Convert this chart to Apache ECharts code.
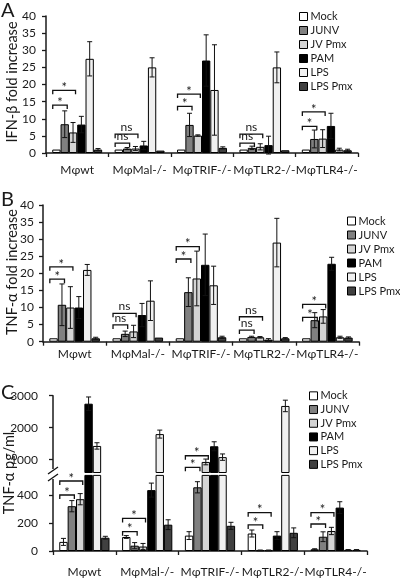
<!DOCTYPE html>
<html><head><meta charset="utf-8">
<script src="https://cdn.jsdelivr.net/npm/echarts@6/dist/echarts.min.js"></script>
<style>html,body{margin:0;padding:0;background:#fff}#c{width:400px;height:578px}</style>
</head><body><div id="c"></div>
<script>
// ---------- DATA ----------
const categories = ['Mφwt', 'MφMal-/-', 'MφTRIF-/-', 'MφTLR2-/-', 'MφTLR4-/-'];
const treatments = ['Mock', 'JUNV', 'JV Pmx', 'PAM', 'LPS', 'LPS Pmx'];
const treatmentColors = ['#ffffff', '#808080', '#d4d4d4', '#000000', '#f0f0f0', '#404040'];

// rows = treatments, columns = categories
const ifnMean = [
  [1, 1, 1, 1, 1],
  [8.4, 1.3, 8.2, 1.5, 4.1],
  [6.0, 1.3, 5.1, 1.8, 4.2],
  [8.3, 2.2, 27, 2.3, 7.9],
  [27.5, 25, 18.4, 25, 1],
  [1, 0.7, 1.5, 0.8, 0.8]
];
const ifnErr = [
  [0, 0, 0, 0, 0],
  [3.9, 0.3, 3.4, 0.5, 2.6],
  [2.9, 0.6, 0.2, 0.9, 2.6],
  [2.4, 1.2, 7.5, 2.6, 3.7],
  [5, 2.8, 13.2, 4.5, 0.4],
  [0.3, 0, 0.3, 0, 0.3]
];
const ifnBrackets = [[0,1,14,'*'],[0,2,18.3,'*'],[1,1,2.9,'ns'],[1,2,5.5,'ns'],[2,1,13.6,'*'],[2,2,17.2,'*'],[3,1,2.9,'ns'],[3,2,5.5,'ns'],[4,1,7.8,'*'],[4,2,12,'*']];

const tnfMean = [
  [1, 1, 1, 1, 1],
  [10.8, 2.3, 14.5, 1.4, 6.3],
  [10, 3, 18.5, 1.3, 7.4],
  [10, 7.8, 22.5, 0.6, 22.8],
  [21, 12, 16.5, 29, 1.3],
  [1, 1.2, 1.3, 1, 1.2]
];
const tnfErr = [
  [0, 0, 0, 0, 0],
  [6.1, 0.8, 4.2, 0.2, 2.2],
  [6.1, 1.8, 8, 0.2, 2],
  [3.2, 3.4, 9, 0.3, 1.9],
  [1.6, 5.8, 5.6, 7.1, 0.3],
  [0.3, 0, 0.3, 0.2, 0.2]
];
const tnfBrackets = [[0,1,18.3,'*'],[0,2,21.9,'*'],[1,1,4.9,'ns'],[1,2,8.3,'ns'],[2,1,24.2,'*'],[2,2,27.8,'*'],[3,1,3.4,'ns'],[3,2,7.3,'ns'],[4,1,7.1,'*'],[4,2,10.9,'*']];

const pgMean = [
  [65, 100, 110, 125, 12],
  [320, 38, 455, 5, 102],
  [370, 32, 930, 5, 143],
  [2750, 435, 1420, 110, 310],
  [1430, 1800, 1080, 2680, 8],
  [95, 188, 180, 130, 8]
];
const pgErr = [
  [25, 10, 28, 25, 4],
  [40, 22, 40, 2, 35],
  [40, 22, 90, 2, 26],
  [210, 50, 140, 28, 42],
  [100, 125, 100, 180, 2],
  [10, 35, 25, 35, 2]
];
const pgBrackets = [[0,1,400,'*'],[0,2,500,'*'],[1,1,138,'*'],[1,2,233,'*'],[2,1,763,'*'],[2,2,1124,'*'],[3,1,186,'*'],[3,2,274,'*'],[4,1,193,'*'],[4,2,274,'*']];

const foldTicks = [0, 5, 10, 15, 20, 25, 30, 35, 40];
const pgUpperTicks = [1000, 2000, 3000];
const pgLowerTicks = [0, 200, 400];
const pgUpperRange = [600, 3000];
const pgLowerRange = [0, 540];

// ---------- STYLE / LAYOUT ----------
const FONT = 'Lato';
const TXT = '#1a1a1a';
const AX = '#1a1a1a';

function errRender(params, api) {
  const cat = api.value(0), s = api.value(1), v = api.value(2), e = api.value(3);
  const band = api.size([1, 0])[0];
  const bw = band * 0.8 / 6;
  const cx = api.coord([cat, v])[0] + (s - 2.5) * bw;
  const top = api.coord([cat, v + e])[1];
  const bot = api.coord([cat, v - e])[1];
  const cap = bw * 0.3;
  const st = { stroke: '#111', lineWidth: 1 };
  return { type: 'group', children: [
    { type: 'line', shape: { x1: cx, y1: top, x2: cx, y2: bot }, style: st },
    { type: 'line', shape: { x1: cx - cap, y1: top, x2: cx + cap, y2: top }, style: st },
    { type: 'line', shape: { x1: cx - cap, y1: bot, x2: cx + cap, y2: bot }, style: st }
  ]};
}

function makeBracketRender(list) {
  return function (params, api) {
    const b = list[params.dataIndex];
    const band = api.size([1, 0])[0];
    const bw = band * 0.8 / 6;
    const c = api.coord([b[0], b[2]]);
    const x1 = c[0] - 3 * bw + 0.5;
    const x2 = c[0] + (b[1] - 2.5) * bw + 0.3 * bw;
    const y = c[1];
    const isStar = b[3] === '*';
    return { type: 'group', children: [
      { type: 'polyline', shape: { points: [[x1, y + 4], [x1, y], [x2, y], [x2, y + 4]] },
        style: { stroke: '#111', lineWidth: 1.3, fill: null } },
      { type: 'text', x: (x1 + x2) / 2, y: isStar ? y + 4 : y - 1,
        style: { text: b[3], font: (isStar ? '13px ' : '12px ') + FONT, fill: TXT,
          textAlign: 'center', textVerticalAlign: 'bottom', align: 'center', verticalAlign: 'bottom' } }
    ]};
  };
}

function errData(mean, err, filt) {
  const out = [];
  for (let s = 0; s < 6; s++) for (let c = 0; c < 5; c++) {
    if (err[s][c] > 0 && filt(mean[s][c])) out.push([c, s, mean[s][c], err[s][c]]);
  }
  return out;
}

const series = [];
function addPanel(grid, mean, err, brackets, barFilter, errFilter, brFilter) {
  for (let s = 0; s < 6; s++) {
    series.push({
      type: 'bar', name: treatments[s], xAxisIndex: grid, yAxisIndex: grid,
      data: mean[s].map(v => barFilter(v) ? v : '-'),
      barGap: '0%', barCategoryGap: '20%',
      itemStyle: { color: treatmentColors[s], borderColor: '#000', borderWidth: 1 },
      clip: true, silent: true, animation: false
    });
  }
  series.push({
    type: 'custom', xAxisIndex: grid, yAxisIndex: grid, z: 4, silent: true, animation: false,
    renderItem: errRender, encode: { x: 0, y: 2 },
    data: errData(mean, err, errFilter)
  });
  const bl = brackets.filter(b => brFilter(b[2]));
  series.push({
    type: 'custom', xAxisIndex: grid, yAxisIndex: grid, z: 4, silent: true, animation: false,
    renderItem: makeBracketRender(bl), encode: { x: 0, y: 2 },
    data: bl.map(b => [b[0], b[1], b[2]])
  });
}
const all = () => true;
addPanel(0, ifnMean, ifnErr, ifnBrackets, all, all, all);
addPanel(1, tnfMean, tnfErr, tnfBrackets, all, all, all);
addPanel(2, pgMean, pgErr, pgBrackets, v => v >= pgUpperRange[0], v => v >= pgUpperRange[0], v => v >= pgUpperRange[0]);
addPanel(3, pgMean, pgErr, pgBrackets, all, v => v < pgLowerRange[1], v => v < pgLowerRange[1]);

const grids = [
  { left: 46, top: 16, width: 312, height: 137 },
  { left: 43, top: 205, width: 316, height: 136.7 },
  { left: 53, top: 395.7, width: 314, height: 76.8 },
  { left: 53, top: 475.4, width: 314, height: 75.6 }
];

function xAxis(grid, margin, show) {
  return {
    type: 'category', gridIndex: grid, data: categories, show: show,
    axisLine: { lineStyle: { color: AX, width: 1.5 } },
    axisTick: { show: true, length: 4, lineStyle: { color: AX, width: 1.3 } },
    axisLabel: { color: TXT, fontFamily: FONT, fontSize: 12, margin: margin, interval: 0 }
  };
}
function yAxis(grid, min, max, ticks, margin) {
  return {
    type: 'value', gridIndex: grid, min: min, max: max,
    axisLine: { show: true, lineStyle: { color: AX, width: 1.5 } },
    axisTick: { show: true, length: 4, lineStyle: { color: AX, width: 1.3 }, customValues: ticks },
    axisLabel: { color: TXT, fontFamily: FONT, fontSize: 12, margin: margin, customValues: ticks,
      formatter: v => String(v) },
    splitLine: { show: false }
  };
}

function legend(left, top, lh) {
  return {
    data: treatments, orient: 'vertical', left: left, top: top, padding: 0,
    itemWidth: 8, itemHeight: 8, itemGap: 0, icon: 'rect', selectedMode: false,
    itemStyle: { borderColor: '#000', borderWidth: 1 },
    textStyle: { color: TXT, fontFamily: FONT, fontSize: 11, lineHeight: lh, height: lh, padding: [0, 0, 0, -2] }
  };
}

function vtitle(text, x, y) {
  return { type: 'text', x: x, y: y, rotation: Math.PI / 2,
    style: { text: text, font: '14.5px ' + FONT, fill: TXT, textAlign: 'center', textVerticalAlign: 'middle', align: 'center', verticalAlign: 'middle' } };
}
function letter(text, x, y) {
  return { type: 'text', x: x, y: y,
    style: { text: text, font: '20px ' + FONT, fill: TXT, textAlign: 'left', textVerticalAlign: 'top', align: 'left', verticalAlign: 'top' } };
}

const chart = echarts.init(document.getElementById('c'), null, { renderer: 'canvas' });
chart.setOption({
  backgroundColor: '#fff',
  animation: false,
  grid: grids,
  xAxis: [xAxis(0, 11, true), xAxis(1, 6, true), xAxis(2, 8, false), xAxis(3, 15, true)],
  yAxis: [
    Object.assign(yAxis(0, 0, 40, foldTicks, 10), { interval: 5 }),
    Object.assign(yAxis(1, 0, 40, foldTicks, 9), { interval: 5 }),
    yAxis(2, pgUpperRange[0], pgUpperRange[1], pgUpperTicks, 15),
    yAxis(3, pgLowerRange[0], pgLowerRange[1], pgLowerTicks, 15)
  ],
  legend: [legend(299, 9.5, 14), legend(347, 214, 14), legend(309, 389, 13.7)],
  series: series,
  graphic: [
    letter('A', 1, 1), letter('B', 1, 190), letter('C', 1, 383),
    vtitle('IFN-β fold increase', 12.5, 82),
    vtitle('TNF-α fold increase', 12.5, 272),
    vtitle('TNF-α pg/ml', 9, 473),
    { type: 'rect', shape: { x: 48, y: 469, width: 10, height: 10 }, style: { fill: '#fff' }, z: 100 },
    { type: 'line', shape: { x1: 48, y1: 474, x2: 58, y2: 467 }, style: { stroke: '#111', lineWidth: 1.3 }, z: 101 },
    { type: 'line', shape: { x1: 48, y1: 481, x2: 58, y2: 474 }, style: { stroke: '#111', lineWidth: 1.3 }, z: 101 }
  ]
});
</script></body></html>
